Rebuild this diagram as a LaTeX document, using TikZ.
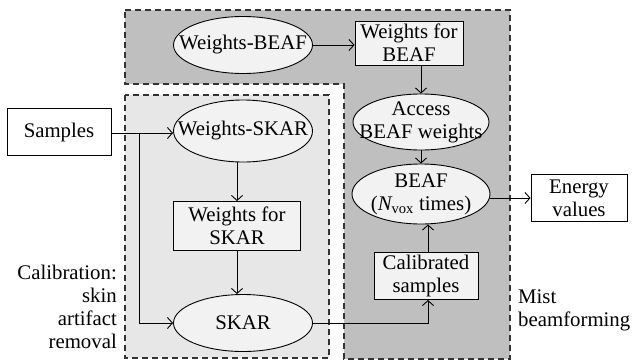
\documentclass[tikz,border=0pt]{standalone}
\usepackage{fontspec}
\setmainfont{Liberation Serif}
\usetikzlibrary{shapes.geometric,arrows.meta}
\definecolor{darkbg}{RGB}{191,191,191}
\definecolor{lightbg}{RGB}{231,231,231}
\definecolor{nodefill}{RGB}{242,242,242}
\tikzset{
  region/.style={draw=black!80, dashed, dash pattern=on 6pt off 4pt, line width=1.1pt},
  ell/.style={ellipse, draw, fill=nodefill, line width=0.9pt, inner xsep=-20pt, inner ysep=-8pt, align=center},
  rbox/.style={rectangle, draw, fill=nodefill, line width=0.9pt, inner sep=0pt, align=center},
  wbox/.style={rectangle, draw, fill=white, line width=0.9pt, inner sep=0pt, align=center},
  arr/.style={line width=0.9pt, -{Straight Barb[length=5pt,width=11pt]}},
  lbl/.style={inner sep=0pt}
}
\begin{document}
\begin{tikzpicture}[x=1pt,y=-1pt,font=\fontsize{20.8}{23}\selectfont]
\useasboundingbox (0,0) rectangle (636,362);
% regions
\fill[darkbg] (125,10) -- (510,10) -- (510,359) -- (344,359) -- (344,84) -- (125,84) -- cycle;
\draw[region] (125,10) -- (510,10) -- (510,359) -- (344,359) -- (344,84) -- (125,84) -- cycle;
\fill[lightbg] (125,95) rectangle (329,358);
\draw[region] (125,95) rectangle (329,358);
% nodes
\node[ell, minimum width=139pt, minimum height=57pt] (wbeaf) at (243,45) {Weights-BEAF};
\node[rbox, minimum width=108pt, minimum height=44pt] (wfbeaf) at (409,43) {Weights for\\BEAF};
\node[ell, minimum width=136pt, minimum height=56pt] (access) at (421,122) {Access\\BEAF weights};
\node[ell, minimum width=138pt, minimum height=60pt] (beaf) at (421,194) {BEAF\\({\itshape N}\textsubscript{vox}~times)};
\node[wbox, minimum width=96pt, minimum height=47pt] (energy) at (579,198) {Energy\\values};
\node[rbox, minimum width=104pt, minimum height=47pt] (calib) at (426,276) {Calibrated\\samples};
\node[wbox, minimum width=104pt, minimum height=47pt] (samples) at (59,132) {Samples};
\node[ell, minimum width=139pt, minimum height=62pt] (wskar) at (243,131) {Weights-SKAR};
\node[rbox, minimum width=127pt, minimum height=49pt] (wfskar) at (237,226) {Weights for\\SKAR};
\node[ell, minimum width=139pt, minimum height=57pt] (skar) at (243,323) {SKAR};
\coordinate (branch) at (139,133);
% labels
\node[lbl, anchor=east, align=right] (callbl) at (117,307) {Calibration:\\skin\\artifact\\removal};
\node[lbl, anchor=west, align=left] (mistlbl) at (518,310) {Mist\\beamforming};
% connectors
\draw[arr] (wbeaf.east) -- (wbeaf.east -| wfbeaf.west);
\draw[arr] (wfbeaf.south -| access.north) -- (access.north);
\draw[arr] (access.south) -- (beaf.north);
\draw[arr] (beaf.east |- energy.west) -- (energy.west);
\draw[arr] ([xshift=2pt]calib.north) -- ([xshift=2pt]calib.north |- beaf.south);
\draw[arr] (skar.east) -| ([xshift=2pt]calib.south);
\draw[arr] (samples.east |- branch) -- (branch -| wskar.west);
\draw[arr] (branch) |- (skar.west);
\draw[arr] (wfskar.north |- wskar.south) -- (wfskar.north);
\draw[arr] (wfskar.south) -- (wfskar.south |- skar.north);
\end{tikzpicture}
\end{document}
